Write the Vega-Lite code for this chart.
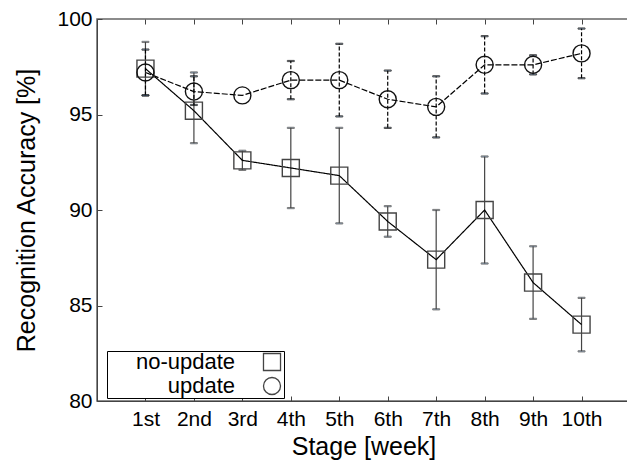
{
  "$schema": "https://vega.github.io/schema/vega-lite/v6.json",
  "width": 533,
  "height": 382,
  "autosize": {"type": "none"},
  "padding": {"left": 97, "top": 19, "right": 0, "bottom": 59},
  "background": "white",
  "config": {
    "font": "Liberation Sans",
    "view": {"stroke": "#666666", "strokeWidth": 1.5},
    "axis": {
      "domainColor": "#444444",
      "tickColor": "#444444",
      "labelColor": "black",
      "titleColor": "black",
      "labelFont": "Liberation Sans",
      "titleFont": "Liberation Sans",
      "labelFontSize": 21,
      "titleFontSize": 25,
      "titleFontWeight": "normal",
      "grid": false,
      "tickSize": -5
    },
    "legend": {
      "labelFont": "Liberation Sans",
      "labelFontSize": 22,
      "labelColor": "black"
    }
  },
  "data": {
    "values": [
      {"stage": "1st", "series": "no-update", "acc": 97.4, "lo": 96.0, "hi": 98.8},
      {"stage": "2nd", "series": "no-update", "acc": 95.2, "lo": 93.5, "hi": 97.2},
      {"stage": "3rd", "series": "no-update", "acc": 92.6, "lo": 92.1, "hi": 93.1},
      {"stage": "4th", "series": "no-update", "acc": 92.2, "lo": 90.1, "hi": 94.3},
      {"stage": "5th", "series": "no-update", "acc": 91.8, "lo": 89.3, "hi": 94.3},
      {"stage": "6th", "series": "no-update", "acc": 89.4, "lo": 88.6, "hi": 90.2},
      {"stage": "7th", "series": "no-update", "acc": 87.4, "lo": 84.8, "hi": 90.0},
      {"stage": "8th", "series": "no-update", "acc": 90.0, "lo": 87.2, "hi": 92.8},
      {"stage": "9th", "series": "no-update", "acc": 86.2, "lo": 84.3, "hi": 88.1},
      {"stage": "10th", "series": "no-update", "acc": 84.0, "lo": 82.6, "hi": 85.4},
      {"stage": "1st", "series": "update", "acc": 97.2, "lo": 96.0, "hi": 98.4},
      {"stage": "2nd", "series": "update", "acc": 96.2, "lo": 95.5, "hi": 97.0},
      {"stage": "3rd", "series": "update", "acc": 96.0, "lo": null, "hi": null},
      {"stage": "4th", "series": "update", "acc": 96.8, "lo": 95.8, "hi": 97.8},
      {"stage": "5th", "series": "update", "acc": 96.8, "lo": 94.9, "hi": 98.7},
      {"stage": "6th", "series": "update", "acc": 95.8, "lo": 94.3, "hi": 97.3},
      {"stage": "7th", "series": "update", "acc": 95.4, "lo": 93.8, "hi": 97.0},
      {"stage": "8th", "series": "update", "acc": 97.6, "lo": 96.1, "hi": 99.1},
      {"stage": "9th", "series": "update", "acc": 97.6, "lo": 97.1, "hi": 98.1},
      {"stage": "10th", "series": "update", "acc": 98.2, "lo": 96.9, "hi": 99.5}
    ]
  },
  "resolve": {"axis": {"x": "independent"}},
  "layer": [
    {
      "mark": {"type": "rule", "strokeWidth": 1.2},
      "encoding": {
        "x": {
          "field": "stage", "type": "ordinal",
          "sort": ["1st","2nd","3rd","4th","5th","6th","7th","8th","9th","10th"],
          "scale": {"type": "point", "padding": 1},
          "title": "Stage [week]",
          "axis": {"labelAngle": 0, "labelPadding": 12, "titlePadding": 5, "domain": true}
        },
        "y": {
          "field": "lo", "type": "quantitative",
          "scale": {"domain": [80, 100], "nice": false, "zero": false},
          "title": "Recognition Accuracy [%]",
          "axis": {"values": [80, 85, 90, 95, 100], "labelPadding": 10, "titlePadding": 17}
        },
        "y2": {"field": "hi"},
        "strokeDash": {"condition": {"test": "datum.series === 'update'", "value": [4, 2]}, "value": [1, 0]},
        "stroke": {"condition": {"test": "datum.series === 'update'", "value": "#000000"}, "value": "#444444"}
      }
    },
    {
      "mark": {"type": "tick", "thickness": 1.2, "size": 7},
      "encoding": {
        "x": {"field": "stage", "type": "ordinal", "sort": ["1st","2nd","3rd","4th","5th","6th","7th","8th","9th","10th"], "axis": {"orient": "top", "labels": false, "title": null, "domain": false}},
        "y": {"field": "lo", "type": "quantitative"},
        "stroke": {"condition": {"test": "datum.series === 'update'", "value": "#000000"}, "value": "#444444"}
      }
    },
    {
      "mark": {"type": "tick", "thickness": 1.2, "size": 7},
      "encoding": {
        "x": {"field": "stage", "type": "ordinal", "sort": ["1st","2nd","3rd","4th","5th","6th","7th","8th","9th","10th"], "axis": null},
        "y": {"field": "hi", "type": "quantitative"},
        "stroke": {"condition": {"test": "datum.series === 'update'", "value": "#000000"}, "value": "#444444"}
      }
    },
    {
      "mark": {"type": "line", "strokeWidth": 1.2, "stroke": "black"},
      "encoding": {
        "x": {"field": "stage", "type": "ordinal", "sort": ["1st","2nd","3rd","4th","5th","6th","7th","8th","9th","10th"], "axis": null},
        "y": {"field": "acc", "type": "quantitative"},
        "detail": {"field": "series"},
        "strokeDash": {"condition": {"test": "datum.series === 'update'", "value": [6, 2]}, "value": [1, 0]}
      }
    },
    {
      "mark": {"type": "point", "filled": false, "strokeWidth": 1.4, "size": 290, "opacity": 1},
      "encoding": {
        "x": {"field": "stage", "type": "ordinal", "sort": ["1st","2nd","3rd","4th","5th","6th","7th","8th","9th","10th"], "axis": null},
        "y": {"field": "acc", "type": "quantitative"},
        "stroke": {"condition": {"test": "datum.series === 'update'", "value": "#111111"}, "value": "#444444"},
        "shape": {
          "field": "series", "type": "nominal",
          "scale": {"domain": ["no-update", "update"], "range": ["square", "circle"]},
          "legend": {
            "title": null,
            "orient": "none",
            "legendX": 10,
            "legendY": 332,
            "strokeColor": "black",
            "fillColor": "white",
            "padding": 0,
            "symbolSize": 290,
            "symbolStrokeWidth": 1.3,
            "labelAlign": "right",
            "labelOffset": -48,
            "symbolOffset": 154,
            "rowPadding": 0,
            "cornerRadius": 0,
            "encode": {
              "symbols": {
                "stroke": {"value": "#222222"},
                "fill": {"value": "transparent"},
                "opacity": {"value": 1}
              }
            }
          }
        }
      }
    }
  ]
}
